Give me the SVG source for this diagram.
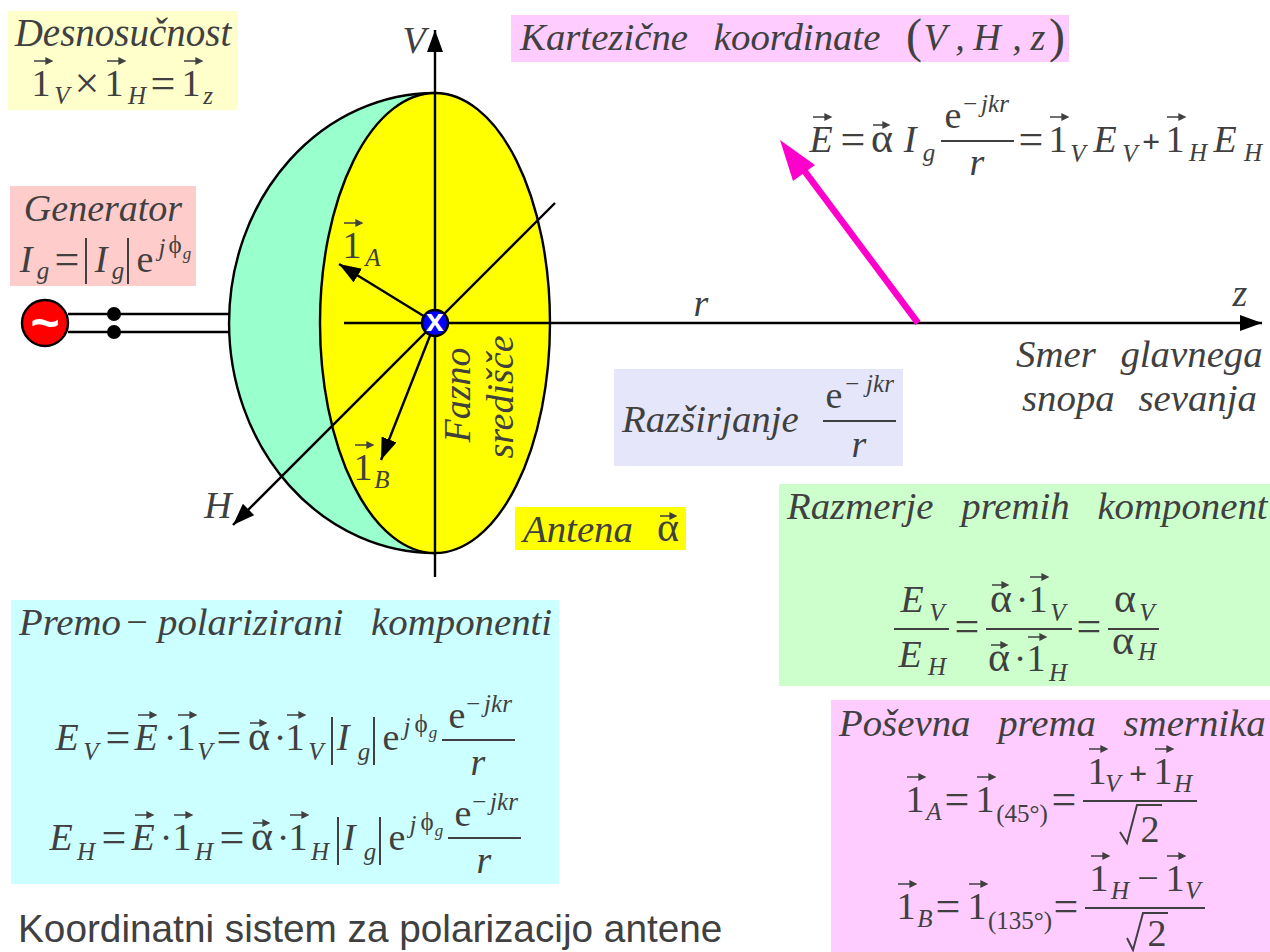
<svg xmlns="http://www.w3.org/2000/svg" width="1270" height="952" viewBox="0 0 1270 952">
<style>
text{font-family:"Liberation Serif","Times New Roman",serif;fill:#404040;text-anchor:middle}
.i{font-size:38px;font-style:italic}
.h{font-size:38.8px;font-style:italic;text-anchor:start;word-spacing:18px}
.r{font-size:38px}
.e{font-size:44px;transform:translateY(1.5px)}
.a{font-size:42px}
.s{font-size:25px;font-style:italic}
.u{font-size:25px}
.q{font-size:17px;font-style:italic}
.b{fill:none;stroke:#404040;stroke-width:2}
.w{fill:none;stroke:#000;stroke-width:2.4}
.k{fill:#404040;stroke:#404040;stroke-width:1.3}
</style>
<defs>
<marker id="ah" markerUnits="userSpaceOnUse" markerWidth="24" markerHeight="18" refX="22" refY="8" orient="auto"><path d="M0 0L22 8L0 16Z" fill="#000"/></marker>
<path id="v" class="k" d="M-9 0H7M3 -3L9 0L3 3Z"/>
<path id="va" class="k" d="M-8 0H6M2 -3L8 0L2 3Z"/>
</defs>
<rect width="1270" height="952" fill="#fff"/>

<g id="desnosucnost">
<rect x="8" y="11" width="230" height="99" fill="#ffffcc"/>
<text class="i" x="123" y="46" style="font-size:39px">Desnosučnost</text>
<text class="r" x="41" y="96">1</text><use href="#v" x="43" y="61"/><text class="s" x="62" y="104">V</text>
<text class="e" x="87" y="96">×</text>
<text class="r" x="114" y="96">1</text><use href="#v" x="116" y="61"/><text class="s" x="137" y="104">H</text>
<text class="e" x="163" y="96">=</text>
<text class="r" x="191" y="96">1</text><use href="#v" x="193" y="61"/><text class="s" x="208" y="104">z</text>
</g>

<g id="generator-label">
<rect x="10" y="186" width="186" height="100" fill="#ffcccc"/>
<text class="i" x="103" y="221">Generator</text>
<text class="i" x="26" y="272">I</text><text class="s" x="43" y="279">g</text>
<text class="e" x="67" y="272">=</text>
<path class="b" d="M86 238V284M128 238V284"/>
<text class="i" x="101" y="272">I</text><text class="s" x="118" y="279">g</text>
<text class="r" x="145" y="272">e</text>
<text class="s" x="162" y="256">j</text><text class="u" x="175" y="253">ϕ</text><text class="q" x="187" y="259">g</text>
</g>

<g id="antenna">
<path d="M435 93A206 230 0 0 0 435 553Z" fill="#99ffcc" stroke="#000" stroke-width="2.4"/>
<ellipse cx="435" cy="323" rx="115" ry="230" fill="#ffff00" stroke="#000" stroke-width="2.4"/>
</g>

<g id="connectors">
<path class="w" d="M68 314H230M68 332H230"/>
<path class="w" d="M435 577V30" marker-end="url(#ah)"/>
<path class="w" d="M344 323H1262" marker-end="url(#ah)"/>
<path class="w" d="M555 203L233 525" marker-end="url(#ah)"/>
<path class="w" d="M435 323L339 264" marker-end="url(#ah)"/>
<path class="w" d="M435 323L381 460" marker-end="url(#ah)"/>
<path d="M918 323L800 165" fill="none" stroke="#ff00cc" stroke-width="6.5"/>
<path d="M780 140L815 165L793 181Z" fill="#ff00cc"/>
<circle cx="114" cy="314" r="7" fill="#000"/>
<circle cx="114" cy="332" r="7" fill="#000"/>
</g>

<g id="source">
<circle cx="45" cy="323" r="23" fill="#ff0000" stroke="#000" stroke-width="2.4"/>
<text x="45" y="340" style="font-family:'Liberation Sans',Arial,sans-serif;font-size:50px;font-weight:bold;fill:#fff">~</text>
</g>

<g id="phase-center">
<circle cx="435" cy="323" r="13" fill="#0000ff" stroke="#000" stroke-width="2.4"/>
<text x="435" y="331" style="font-family:'Liberation Sans',Arial,sans-serif;font-size:32px;font-weight:bold;fill:#fff">x</text>
</g>

<g id="axis-labels">
<text class="i" x="414" y="53">V</text>
<text class="i" x="218" y="518">H</text>
<text class="i" x="701" y="316">r</text>
<text class="i" x="1240" y="306">z</text>
<text class="h" x="1016" y="367" style="word-spacing:15px">Smer glavnega</text>
<text class="h" x="1022" y="411" style="word-spacing:14px">snopa sevanja</text>
<text class="r" x="352" y="258">1</text><use href="#v" x="353" y="223"/><text class="s" x="373" y="266">A</text>
<text class="r" x="363" y="480">1</text><use href="#v" x="364" y="445"/><text class="s" x="382" y="488">B</text>
<text class="i" transform="translate(470 395) rotate(-90)">Fazno</text>
<text class="i" transform="translate(513 397) rotate(-90)">središče</text>
</g>

<g id="kartezicne">
<rect x="511" y="15" width="558" height="47" fill="#ffccff"/>
<text class="h" x="520" y="50" style="word-spacing:16px">Kartezične koordinate</text>
<text style="font-size:48px" x="914" y="52">(</text>
<text class="i" x="935" y="50">V</text><text class="i" x="960" y="50">,</text><text class="i" x="987" y="50">H</text><text class="i" x="1017" y="50">,</text><text class="i" x="1038" y="50">z</text>
<text style="font-size:48px" x="1057" y="52">)</text>
</g>

<g id="polje">
<text class="i" x="821" y="152">E</text><use href="#v" x="822" y="117"/>
<text class="e" x="853" y="152">=</text>
<text class="a" x="882" y="152">α</text><use href="#va" x="881" y="125"/>
<text class="i" x="910" y="152">I</text><text class="s" x="929" y="161">g</text>
<path class="b" d="M941 141H1014"/>
<text class="r" x="953" y="128">e</text><text class="s" x="970" y="112">−</text><text class="s" x="995" y="112">jkr</text>
<text class="i" x="977" y="175">r</text>
<text class="e" x="1031" y="152">=</text>
<text class="r" x="1058" y="152">1</text><use href="#v" x="1059" y="117"/><text class="s" x="1078" y="162">V</text>
<text class="i" x="1105" y="152">E</text><text class="s" x="1130" y="162">V</text>
<text class="r" x="1151" y="152" style="font-weight:bold;font-size:32px">+</text>
<text class="r" x="1175" y="152">1</text><use href="#v" x="1176" y="117"/><text class="s" x="1198" y="161">H</text>
<text class="i" x="1225" y="152">E</text><text class="s" x="1253" y="161">H</text>
</g>

<g id="razsirjanje">
<rect x="614" y="369" width="289" height="97" fill="#e6e6fa"/>
<text class="h" x="622" y="432">Razširjanje</text>
<text class="r" x="834" y="408">e</text><text class="s" x="852" y="392">−</text><text class="s" x="880" y="392">jkr</text>
<path class="b" d="M823 421H896"/>
<text class="i" x="859" y="457">r</text>
</g>

<g id="antena-label">
<rect x="515" y="507" width="171" height="43" fill="#ffff00"/>
<text class="h" x="523" y="542">Antena</text>
<text class="a" x="668" y="541">α</text><use href="#va" x="668" y="516"/>
</g>

<g id="razmerje">
<rect x="779" y="484" width="491" height="202" fill="#ccffcc"/>
<text class="h" x="787" y="519">Razmerje premih komponent</text>
<path class="b" d="M894 629H949M986 629H1072M1108 629H1159"/>
<text class="i" x="912" y="612">E</text><text class="s" x="937" y="621">V</text>
<text class="i" x="910" y="667">E</text><text class="s" x="937" y="675">H</text>
<text class="e" x="967" y="639">=</text>
<text class="a" x="1001" y="612">α</text><use href="#va" x="1000" y="585"/><text class="r" x="1022" y="612">·</text>
<text class="r" x="1038" y="612">1</text><use href="#v" x="1039" y="577"/><text class="s" x="1058" y="621">V</text>
<text class="a" x="999" y="671">α</text><use href="#va" x="999" y="645"/><text class="r" x="1020" y="671">·</text>
<text class="r" x="1036" y="671">1</text><use href="#v" x="1037" y="637"/><text class="s" x="1058" y="681">H</text>
<text class="e" x="1089" y="639">=</text>
<text class="a" x="1125" y="612">α</text><text class="s" x="1147" y="621">V</text>
<text class="a" x="1123" y="654">α</text><text class="s" x="1147" y="660">H</text>
</g>

<g id="premo">
<rect x="11" y="600" width="548" height="284" fill="#ccffff"/>
<text class="h" x="19" y="635">Premo</text>
<text class="r" x="137" y="635">−</text>
<text class="h" x="158" y="635">polarizirani komponenti</text>
<text class="i" x="67" y="750">E</text><text class="s" x="91" y="760">V</text>
<text class="e" x="118" y="750">=</text>
<text class="i" x="146" y="750">E</text><use href="#v" x="147" y="715"/>
<text class="r" x="170" y="750">·</text>
<text class="r" x="186" y="750">1</text><use href="#v" x="187" y="715"/><text class="s" x="205" y="760">V</text>
<text class="e" x="229" y="750">=</text>
<text class="a" x="259" y="750">α</text><use href="#va" x="258" y="723"/>
<text class="r" x="280" y="750">·</text>
<text class="r" x="295" y="750">1</text><use href="#v" x="296" y="715"/><text class="s" x="316" y="760">V</text>
<path class="b" d="M332 717V765M374 717V765"/>
<text class="i" x="343" y="750">I</text><text class="s" x="364" y="760">g</text>
<text class="r" x="391" y="750">e</text>
<text class="s" x="407" y="735">j</text><text class="u" x="421" y="732">ϕ</text><text class="q" x="433" y="738">g</text>
<path class="b" d="M442 740H515"/>
<text class="r" x="457" y="728">e</text><text class="s" x="473" y="712">−</text><text class="s" x="498" y="712">jkr</text>
<text class="i" x="478" y="775">r</text>

<text class="i" x="61" y="850">E</text><text class="s" x="86" y="860">H</text>
<text class="e" x="114" y="850">=</text>
<text class="i" x="143" y="850">E</text><use href="#v" x="144" y="815"/>
<text class="r" x="166" y="850">·</text>
<text class="r" x="182" y="850">1</text><use href="#v" x="183" y="815"/><text class="s" x="204" y="860">H</text>
<text class="e" x="232" y="850">=</text>
<text class="a" x="262" y="850">α</text><use href="#va" x="261" y="823"/>
<text class="r" x="283" y="850">·</text>
<text class="r" x="298" y="850">1</text><use href="#v" x="299" y="815"/><text class="s" x="320" y="860">H</text>
<path class="b" d="M338 817V865M380 817V865"/>
<text class="i" x="349" y="850">I</text><text class="s" x="370" y="860">g</text>
<text class="r" x="397" y="850">e</text>
<text class="s" x="413" y="833">j</text><text class="u" x="427" y="830">ϕ</text><text class="q" x="439" y="836">g</text>
<path class="b" d="M448 838H521"/>
<text class="r" x="463" y="826">e</text><text class="s" x="479" y="810">−</text><text class="s" x="504" y="810">jkr</text>
<text class="i" x="484" y="873">r</text>
</g>

<g id="posevna">
<rect x="831" y="700" width="439" height="252" fill="#ffccff"/>
<text class="h" x="839" y="736">Poševna prema smernika</text>
<text class="r" x="915" y="812">1</text><use href="#v" x="916" y="777"/><text class="s" x="934" y="820">A</text>
<text class="e" x="957" y="812">=</text>
<text class="r" x="985" y="812">1</text><use href="#v" x="986" y="777"/>
<text class="u" x="1022" y="822">(45°)</text>
<text class="e" x="1064" y="812">=</text>
<path class="b" d="M1083 801H1197"/>
<text class="r" x="1097" y="784">1</text><use href="#v" x="1098" y="749"/><text class="s" x="1113" y="792">V</text>
<text class="r" x="1138" y="784" style="font-weight:bold;font-size:32px">+</text>
<text class="r" x="1163" y="784">1</text><use href="#v" x="1164" y="749"/><text class="s" x="1183" y="792">H</text>
<path class="b" d="M1120 832L1127 843L1137 805H1162"/>
<text class="r" x="1150" y="842">2</text>

<text class="r" x="906" y="919">1</text><use href="#v" x="907" y="884"/><text class="s" x="925" y="927">B</text>
<text class="e" x="948" y="919">=</text>
<text class="r" x="977" y="919">1</text><use href="#v" x="978" y="884"/>
<text class="u" x="1020" y="929">(135°)</text>
<text class="e" x="1066" y="919">=</text>
<path class="b" d="M1085 908H1205"/>
<text class="r" x="1099" y="891">1</text><use href="#v" x="1100" y="856"/><text class="s" x="1120" y="899">H</text>
<text class="r" x="1148" y="891">−</text>
<text class="r" x="1175" y="891">1</text><use href="#v" x="1176" y="856"/><text class="s" x="1193" y="899">V</text>
<path class="b" d="M1127 938L1133 950L1143 913H1168"/>
<text class="r" x="1157" y="946">2</text>
</g>

<text id="caption" x="18" y="942" style="font-family:'Liberation Sans',Arial,sans-serif;font-size:38.75px;text-anchor:start">Koordinatni sistem za polarizacijo antene</text>
</svg>
